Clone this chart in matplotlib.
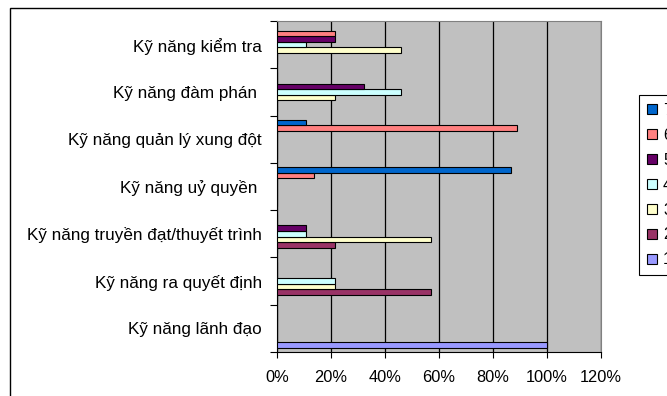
import matplotlib.pyplot as plt
import matplotlib.patches as mpatches
import numpy as np

# categories, bottom to top as drawn
categories = [
    "Kỹ năng lãnh đạo",
    "Kỹ năng ra quyết định",
    "Kỹ năng truyền đạt/thuyết trình",
    "Kỹ năng uỷ quyền ",
    "Kỹ năng quản lý xung đột",
    "Kỹ năng đàm phán ",
    "Kỹ năng kiểm tra",
]

# one list per series (rank 1..7), values in fraction of 1, same order as categories
s1 = [1.00, 0.00, 0.00, 0.00, 0.00, 0.00, 0.00]
s2 = [0.00, 0.57, 0.215, 0.00, 0.00, 0.00, 0.00]
s3 = [0.00, 0.215, 0.57, 0.00, 0.00, 0.215, 0.46]
s4 = [0.00, 0.215, 0.107, 0.00, 0.00, 0.46, 0.107]
s5 = [0.00, 0.00, 0.107, 0.00, 0.00, 0.323, 0.215]
s6 = [0.00, 0.00, 0.00, 0.136, 0.888, 0.00, 0.215]
s7 = [0.00, 0.00, 0.00, 0.868, 0.107, 0.00, 0.00]
series_names = ["1", "2", "3", "4", "5", "6", "7"]
series_colors = ["#9999FF", "#993366", "#FFFFCC", "#CCFFFF", "#660066", "#FF8080", "#0066CC"]
xticks = [0, 0.2, 0.4, 0.6, 0.8, 1.0, 1.2]
xtick_labels = ["0%", "20%", "40%", "60%", "80%", "100%", "120%"]

plt.rcParams['font.family'] = ['Liberation Sans', 'DejaVu Sans']

W, H = 667, 396
fig = plt.figure(figsize=(W / 100, H / 100), dpi=100)
fig.patch.set_facecolor('white')

ax = fig.add_axes([277 / W, 1 - 352 / H, (601 - 277) / W, (352 - 21) / H])
ax.set_facecolor('#C0C0C0')

all_series = [s1, s2, s3, s4, s5, s6, s7]
y = np.arange(len(categories))
h = 1 / 8.5
handles = []
for k, vals in enumerate(all_series):
    b = ax.barh(y + (k - 3) * h, vals, height=h, color=series_colors[k],
                edgecolor='black', linewidth=0.8, label=series_names[k], zorder=3)
    handles.append(b)

ax.set_xlim(0, 1.2)
ax.set_ylim(-0.5, len(categories) - 0.5)
ax.set_xticks(xticks)
ax.set_xticklabels(xtick_labels, fontsize=11.8)
ax.tick_params(axis='x', length=4, width=0.8, direction='out', pad=9)
ax.xaxis.grid(True, color='black', linewidth=0.9, zorder=1)

# category boundaries as major ticks, labels on minor ticks
ax.set_yticks(np.arange(-0.5, len(categories), 1.0))
ax.set_yticklabels([])
ax.set_yticks(y, minor=True)
ax.set_yticklabels(categories, minor=True, fontsize=12.3)
ax.tick_params(axis='y', which='major', length=5, width=0.8, direction='out')
ax.tick_params(axis='y', which='minor', length=0, pad=11)

for s in ['top', 'right']:
    ax.spines[s].set_color('#808080')
for s in ['left', 'bottom']:
    ax.spines[s].set_color('black')

# legend, reversed so 7 on top; runs off the right edge like the original
leg = fig.legend(handles[::-1], series_names[::-1], loc='upper left',
                 bbox_to_anchor=(639 / W, 1 - 95 / H), bbox_transform=fig.transFigure,
                 fontsize=11.5, frameon=True, fancybox=False, framealpha=1,
                 edgecolor='black', handlelength=0.6, handleheight=0.6,
                 handletextpad=0.4, labelspacing=0.62, borderpad=0.5,
                 borderaxespad=0)
leg.get_frame().set_linewidth(0.8)

# outer chart border
fig.patches.append(mpatches.Rectangle((10 / W, -0.2), 1.2, 1.2 - 8 / H,
                                      transform=fig.transFigure, fill=False,
                                      edgecolor='black', linewidth=1.0))

fig.savefig('out.png', dpi=100)
